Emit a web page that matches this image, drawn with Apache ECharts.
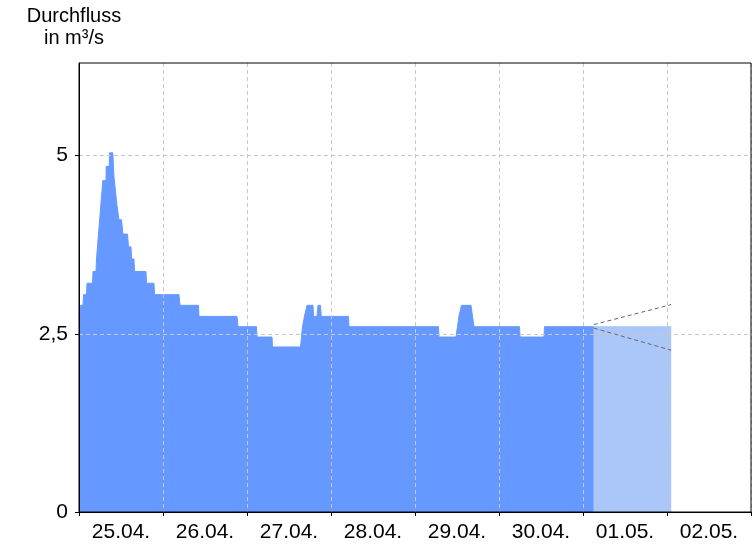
<!DOCTYPE html>
<html>
<head>
<meta charset="utf-8">
<script src="https://cdn.jsdelivr.net/npm/echarts@6/dist/echarts.min.js"></script>
<style>html,body{margin:0;padding:0;background:#fff}#c{width:756px;height:546px}</style>
</head>
<body>
<div id="c"></div>
<script>
// day labels (each band = 24 h, starting 25.04. 00:00)
var dayLabels = ['25.04.', '26.04.', '27.04.', '28.04.', '29.04.', '30.04.', '01.05.', '02.05.'];
var yTicks = [0, 2.5, 5];

// observed discharge: hours since 25.04. 00:00 and m³/s
var obsHours = [0, 0.43, 0.63, 1.14, 1.29, 2.14, 2.29, 3.86, 4.0, 4.86, 5.0, 5.57, 6.8, 7.71, 7.77, 8.63, 8.71, 9.66,
  10.0, 10.43, 10.86, 11.43, 12.14, 12.57, 13.86, 14.14, 14.86, 15.0, 15.71, 15.86, 19.14, 19.29, 21.43, 21.57,
  28.57, 28.86, 34.14, 34.29, 45.14, 45.43, 50.71, 50.86, 55.14, 55.29, 63.29, 63.86, 64.43, 65.14, 66.86, 67.0,
  68.0, 68.29, 69.0, 69.2, 77.0, 77.14, 102.71, 102.86, 107.71, 108.14, 108.57, 109.29, 112.0, 112.43, 112.86,
  125.86, 126.0, 132.86, 133.0, 147.09];
var obsValues = [2.75, 2.9, 2.9, 2.9, 3.05, 3.05, 3.21, 3.21, 3.375, 3.375, 3.55, 3.55, 4.65, 4.65, 4.85, 4.85, 5.04, 5.04,
  4.7, 4.5, 4.3, 4.1, 4.1, 3.9, 3.9, 3.72, 3.72, 3.55, 3.55, 3.375, 3.375, 3.21, 3.21, 3.05,
  3.05, 2.9, 2.9, 2.745, 2.745, 2.6, 2.6, 2.455, 2.455, 2.315, 2.315, 2.6, 2.75, 2.9, 2.9, 2.745,
  2.745, 2.9, 2.9, 2.745, 2.745, 2.6, 2.6, 2.455, 2.455, 2.6, 2.75, 2.9, 2.9, 2.745, 2.6,
  2.6, 2.455, 2.455, 2.6, 2.6];

// forecast
var fcHours = [147.09, 169.2];
var fcValues = [2.6, 2.6];
var fcUpper = [2.63, 2.91];
var fcLower = [2.58, 2.27];

function pairs(xs, ys) { return xs.map(function (x, i) { return [x, ys[i]]; }); }

var font = "'Liberation Sans', Arial, sans-serif";
var chart = echarts.init(document.getElementById('c'), null, { renderer: 'canvas' });
chart.setOption({
  animation: false,
  backgroundColor: '#fff',
  title: {
    text: 'Durchfluss\nin m³/s',
    left: 69, top: 0, textAlign: 'center',
    textStyle: { fontFamily: font, fontSize: 20, fontWeight: 'normal', color: '#000', lineHeight: 22 }
  },
  grid: { left: 79, right: 5, top: 63, bottom: 34, show: true, borderColor: '#000', borderWidth: 1, z: 20 },
  xAxis: [{
    type: 'value', min: 0, max: 192, interval: 24, z: 10,
    axisLine: { show: true, onZero: false, lineStyle: { color: '#000', width: 1 } },
    axisTick: { show: true, length: 4, lineStyle: { color: '#000' } },
    axisLabel: { show: false },
    splitLine: { show: true, lineStyle: { color: '#c8c8c8', type: [4, 3], width: 1 } }
  }, {
    type: 'category', data: dayLabels, boundaryGap: true, position: 'bottom', z: 10,
    axisLine: { show: false }, axisTick: { show: false }, splitLine: { show: false },
    axisLabel: { fontFamily: font, fontSize: 21, color: '#000', margin: 10 }
  }],
  yAxis: {
    type: 'value', min: 0, max: 6.3, interval: 2.5, z: 10,
    axisLine: { show: true, lineStyle: { color: '#000', width: 1 } },
    axisTick: { show: true, length: 4, customValues: yTicks, lineStyle: { color: '#000' } },
    axisLabel: {
      fontFamily: font, fontSize: 21, color: '#000', margin: 11, customValues: yTicks,
      formatter: function (v) { return String(v).replace('.', ','); }
    },
    splitLine: { show: true, lineStyle: { color: '#c8c8c8', type: [4, 3], width: 1 } }
  },
  series: [{
    type: 'line', xAxisIndex: 0, data: pairs(obsHours, obsValues), showSymbol: false, z: 2,
    lineStyle: { color: '#6699ff', width: 1 }, areaStyle: { color: '#6699ff', opacity: 1 }
  }, {
    type: 'line', xAxisIndex: 0, data: pairs(fcHours, fcValues), showSymbol: false, z: 2,
    lineStyle: { color: '#abc7fa', width: 1 }, areaStyle: { color: '#abc7fa', opacity: 1 }
  }, {
    type: 'line', xAxisIndex: 0, data: pairs(fcHours, fcUpper), showSymbol: false, z: 3,
    lineStyle: { color: '#666666', width: 1, type: [4, 3] }
  }, {
    type: 'line', xAxisIndex: 0, data: pairs(fcHours, fcLower), showSymbol: false, z: 3,
    lineStyle: { color: '#666666', width: 1, type: [4, 3] }
  }]
});
</script>
</body>
</html>
